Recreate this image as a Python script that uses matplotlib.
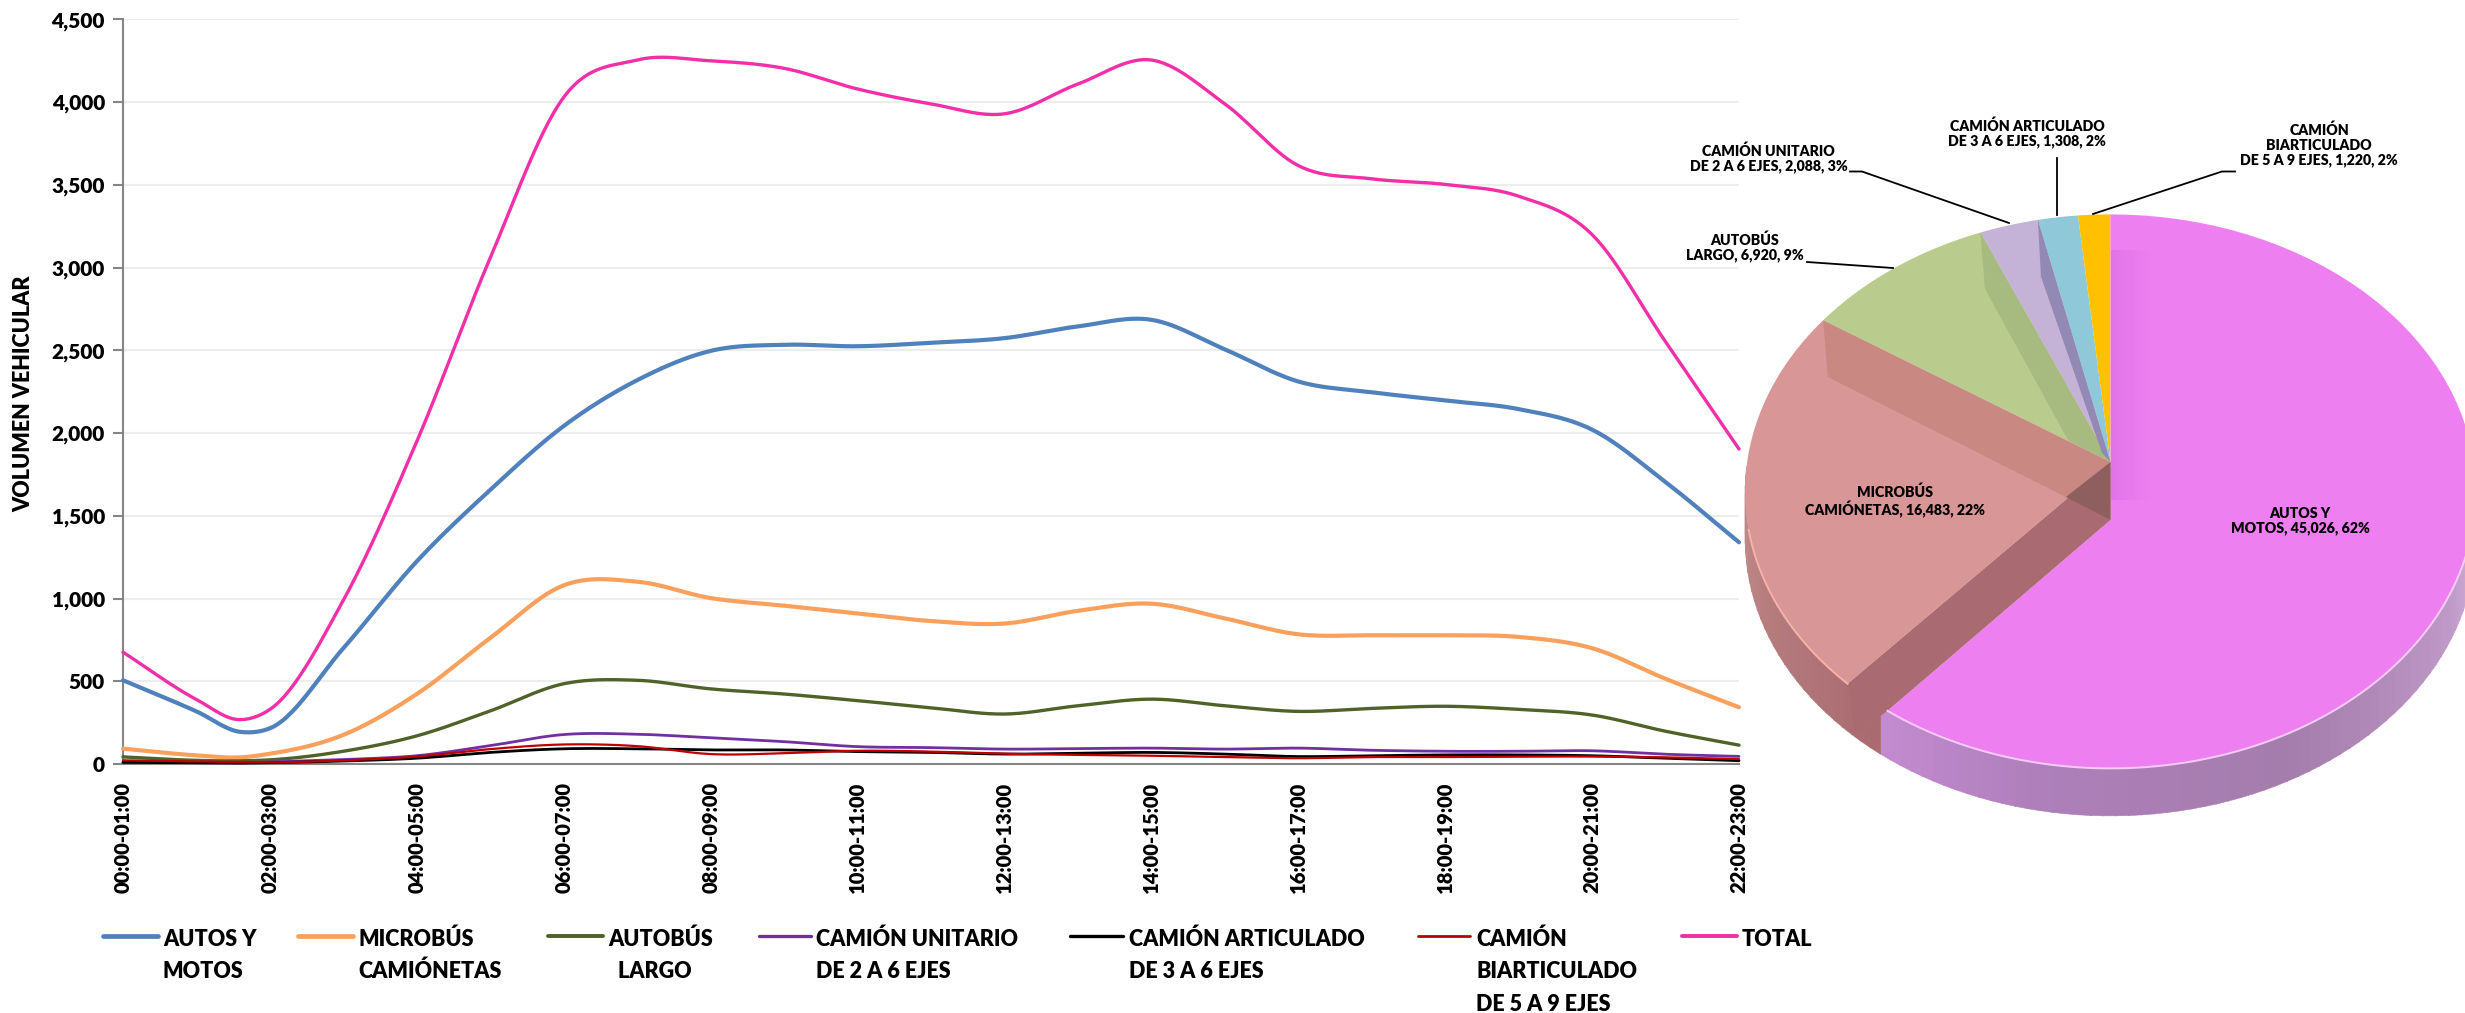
import matplotlib
matplotlib.use("Agg")
import matplotlib.pyplot as plt
import numpy as np
from matplotlib.colors import to_rgb
from matplotlib.patches import Polygon

plt.rcParams["font.family"] = ["Lato", "DejaVu Sans"]
plt.rcParams["font.weight"] = "heavy"

# hour position of every reading (1.6 is the night minimum)
hours = [0, 1, 1.6, 2, 3, 4, 5, 6, 7, 8, 9, 10, 11, 12, 13, 14, 15, 16, 17, 18, 19, 20, 21, 22]

autos = [506, 318, 194, 216, 700, 1225, 1657, 2043, 2320, 2497, 2534, 2525, 2546, 2574, 2645, 2685, 2506, 2312, 2247, 2197, 2145, 2021, 1704, 1340]
microbus = [93, 52, 40, 62, 176, 423, 762, 1080, 1102, 1003, 957, 910, 864, 849, 926, 969, 880, 784, 778, 778, 768, 700, 515, 343]
autobus = [43, 22, 19, 25, 77, 170, 321, 485, 506, 454, 423, 383, 340, 302, 352, 392, 352, 318, 336, 349, 330, 296, 198, 114]
unitario = [10, 8, 7, 12, 27, 50, 111, 178, 180, 158, 135, 105, 99, 90, 93, 96, 90, 96, 83, 77, 77, 80, 59, 46]
articulado = [10, 8, 6, 8, 18, 35, 70, 92, 92, 85, 85, 75, 70, 60, 65, 70, 60, 45, 50, 55, 55, 50, 35, 20]
biarticulado = [22, 15, 12, 10, 22, 45, 90, 118, 108, 60, 65, 80, 75, 62, 55, 50, 42, 35, 42, 42, 45, 45, 40, 30]
total = [676, 390, 268, 330, 990, 1950, 3060, 4030, 4255, 4250, 4205, 4080, 3990, 3930, 4110, 4255, 3990, 3617, 3537, 3503, 3432, 3200, 2552, 1904]

tick_hours = [0, 2, 4, 6, 8, 10, 12, 14, 16, 18, 20, 22]
tick_labels = ["00:00-01:00", "02:00-03:00", "04:00-05:00", "06:00-07:00", "08:00-09:00", "10:00-11:00",
               "12:00-13:00", "14:00-15:00", "16:00-17:00", "18:00-19:00", "20:00-21:00", "22:00-23:00"]
y_ticks = [0, 500, 1000, 1500, 2000, 2500, 3000, 3500, 4000, 4500]

pie_values = [45026, 16483, 6920, 2088, 1308, 1220]
pie_labels = ["AUTOS Y\nMOTOS, 45,026, 62%", "MICROBÚS\nCAMIÓNETAS, 16,483, 22%", "AUTOBÚS\nLARGO, 6,920, 9%",
              "CAMIÓN UNITARIO\nDE 2 A 6 EJES, 2,088, 3%", "CAMIÓN ARTICULADO\nDE 3 A 6 EJES, 1,308, 2%",
              "CAMIÓN\nBIARTICULADO\nDE 5 A 9 EJES, 1,220, 2%"]


def smooth(x, y):
    # Excel style smoothed line: cubic Hermite through the readings
    x = np.array(x, dtype=float)
    y = np.array(y, dtype=float)
    m = np.gradient(y, x)
    xs, ys = [], []
    for i in range(len(x) - 1):
        h = x[i + 1] - x[i]
        s = np.linspace(0, 1, 30)
        xs.append(x[i] + s * h)
        ys.append((2*s**3 - 3*s**2 + 1) * y[i] + (s**3 - 2*s**2 + s) * h * m[i]
                  + (-2*s**3 + 3*s**2) * y[i + 1] + (s**3 - s**2) * h * m[i + 1])
    return np.concatenate(xs), np.concatenate(ys)


W, H = 2465, 1013
fig = plt.figure(figsize=(W / 100, H / 100), dpi=100)
ax = fig.add_axes([123 / W, 1 - 764 / H, (1739 - 123) / W, (764 - 19.5) / H])

series = [
    (autos, "#4f81bd", 3.0),
    (microbus, "#f9a05c", 3.0),
    (autobus, "#4f6228", 2.4),
    (unitario, "#7030a0", 2.0),
    (articulado, "black", 2.0),
    (biarticulado, "#c00000", 1.6),
    (total, "#f22ea8", 2.4),
]
for values, color, lw in series:
    sx, sy = smooth(hours, values)
    ax.plot(sx, sy, color=color, lw=lw, solid_capstyle="round", clip_on=False, zorder=3)

ax.set_xlim(0, 22)
ax.set_ylim(0, 4500)
ax.set_xticks(tick_hours, tick_labels, rotation=90, fontsize=14.5, fontweight="heavy")
ax.set_yticks(y_ticks, [f"{v:,}" for v in y_ticks], fontsize=15, fontweight="heavy")
ax.tick_params(axis="x", length=0, pad=13)
ax.tick_params(axis="y", length=7, width=1.5, color="#868686", pad=6)
ax.grid(axis="y", color="#ededed", lw=1.6)
ax.set_axisbelow(True)
for side in ["top", "right"]:
    ax.spines[side].set_visible(False)
for side in ["left", "bottom"]:
    ax.spines[side].set_color("#868686")
    ax.spines[side].set_linewidth(1.5)

fig.text(24 / W, 1 - 394 / H, "VOLUMEN VEHICULAR", rotation=90, ha="center", va="center", fontsize=15.5)

# overlay in pixel coordinates for the legend and the 3D pie
ov = fig.add_axes([0, 0, 1, 1], zorder=5)
ov.set_xlim(0, W)
ov.set_ylim(H, 0)
ov.axis("off")
ov.patch.set_alpha(0)

legend_rows = [
    (103, 158, 163, ["AUTOS Y", "MOTOS"]),
    (298, 353, 358, ["MICROBÚS", "CAMIÓNETAS"]),
    (548, 603, 608, ["AUTOBÚS", "  LARGO"]),
    (759, 811, 816, ["CAMIÓN UNITARIO", "DE 2 A 6 EJES"]),
    (1070, 1123, 1129, ["CAMIÓN ARTICULADO", "DE 3 A 6 EJES"]),
    (1418, 1470, 1476, ["CAMIÓN", "BIARTICULADO", "DE 5 A 9 EJES"]),
    (1682, 1737, 1742, ["TOTAL"]),
]
line_y = [939, 971, 1004]
for (x0, x1, tx, lines), (_, color, lw) in zip(legend_rows, series):
    ov.plot([x0, x1], [936, 936], color=color, lw=lw + 0.4, solid_capstyle="round")
    for yy, line in zip(line_y, lines):
        ov.text(tx, yy, line, fontsize=15.5, ha="left", va="center")

# 3D pie: top face is an ellipse, slice angles come from the values
cx, cy, rx, ry = 2110.5, 491.4, 365.4, 277.0
depth = 47.5
apex_back = (2110.5, 462)
apex_front = (2110.5, 520)


def rim(t, shift=0.0):
    t = np.radians(t)
    return np.column_stack([cx + rx * np.sin(t), cy - ry * np.cos(t) + shift])


def arc(t0, t1, shift=0.0):
    return rim(np.linspace(t0, t1, 80), shift)


def blend(t, stops, colors):
    rgb = np.array([to_rgb(c) for c in colors])
    return [np.interp(t, stops, rgb[:, i]) for i in range(3)]


edges = np.cumsum(pie_values) / np.sum(pie_values) * 360
pink_end = edges[0] - 4.3
red_start = edges[0] + 4.1
red_end = edges[1] + 5.0
green_end = edges[2] + 1.9
lav_end = edges[3] + 1.0
blue_end = edges[4] + 0.9

# side wall
side_t = np.arange(85, 275, 2.0)
for t in side_t:
    if t < pink_end:
        c = blend(t, [85, 110, 150, 190, 218], ["#dcc6df", "#c09ac8", "#a47dac", "#ae7fba", "#c48bd0"])
    else:
        c = blend(t, [218, 270], ["#a96a70", "#c08a88"])
    quad = np.vstack([arc(t, t + 2.2)[[0, -1]], arc(t, t + 2.2, depth)[[-1, 0]]])
    ov.add_patch(Polygon(quad, closed=True, fc=c, ec=c, lw=0.4, zorder=1))

# top faces
faces = [
    (red_start, red_end, "#d99696"),
    (red_end, green_end, "#b9cc8e"),
    (green_end, lav_end, "#c5b3d7"),
    (lav_end, blue_end, "#8fc8d8"),
    (blue_end, 360, "#ffc000"),
]
for t0, t1, color in faces:
    ov.add_patch(Polygon(np.vstack([apex_back, arc(t0, t1)]), closed=True, fc=color, ec="none", zorder=2))

# inner walls seen through the slices
p_red = rim(red_end)[0]
ov.add_patch(Polygon([p_red, (1827.8, 377), (2065.8, 497), apex_back], closed=True, fc="#c98882", ec="none", zorder=3))
p_green = rim(green_end)[0]
ov.add_patch(Polygon([p_green, (1985, 289), (2068.4, 440.7), apex_back], closed=True, fc="#a7bb80", ec="none", zorder=3))
p_lav = rim(lav_end)[0]
ov.add_patch(Polygon([p_lav, (2040.9, 276.5), (2102, 453), apex_back], closed=True, fc="#9389b5", ec="none", zorder=3))

# pink slice sits on its own apex
ov.add_patch(Polygon(np.vstack([apex_front, arc(0, pink_end)]), closed=True, fc="#ee7ff0", ec="none", zorder=4))
# soft shadow right of the vertical edge
for k in range(10):
    x0 = 2110.5 + k * 4
    ov.add_patch(Polygon([(x0, 250), (x0 + 4, 250), (x0 + 4, 500), (x0, 500)], closed=True, fc="#b050c8",
                         alpha=0.2 * (1 - k / 10), ec="none", zorder=4))

# dark wall between the red and pink slices
p_a = rim(red_start)[0]
p_b = rim(pink_end)[0]
ov.add_patch(Polygon([apex_back, apex_front, p_b, (1855.3, 734), p_a], closed=True, fc="#a96a72", ec="none", zorder=5))
ov.add_patch(Polygon([(2065.8, 497), apex_back, apex_front], closed=True, fc="#8f5f60", ec="none", zorder=5))

# bright rim
rim_pink = arc(100, pink_end)
ov.plot(rim_pink[:, 0], rim_pink[:, 1], color="#f8ccf9", lw=1.4, zorder=6)
rim_red = arc(red_start, 262)
ov.plot(rim_red[:, 0], rim_red[:, 1], color="#f3b4a8", lw=1.4, zorder=6)

label_pos = [(2300, 521), (1895, 501), (1745, 247), (1768.5, 158), (2027, 133), (2319, 145)]
for (lx, ly), text in zip(label_pos, pie_labels):
    ov.text(lx, ly, text, fontsize=10.2, ha="center", va="center", multialignment="center",
            linespacing=1.15, zorder=7)

leaders = [
    ([1850, 1862, 2009], [171.5, 171.5, 223]),
    ([1807, 1893], [262, 268]),
    ([2057, 2057], [158, 215]),
    ([2235, 2222, 2093], [171.5, 171.5, 214]),
]
for lx, ly in leaders:
    ov.plot(lx, ly, color="black", lw=1.3, zorder=7)

plt.savefig("out.png", dpi=100)
plt.close()
